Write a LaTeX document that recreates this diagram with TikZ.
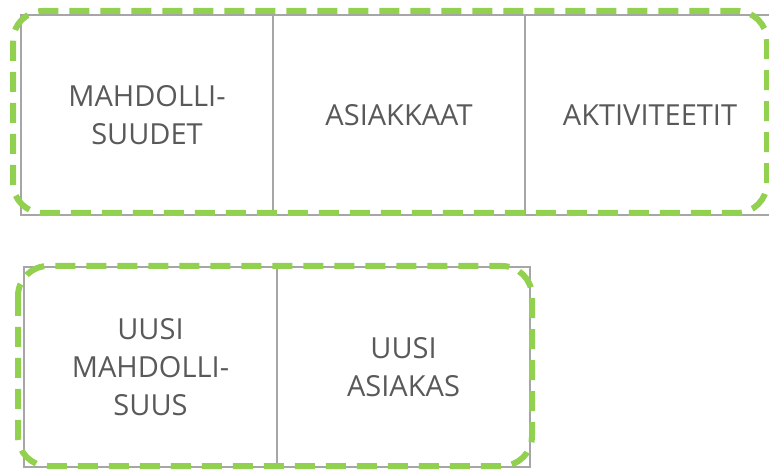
\documentclass[tikz,border=0pt]{standalone}
\usepackage{fontspec}
\setmainfont{Open Sans}
\definecolor{cellgray}{HTML}{A6A6A6}
\definecolor{txtgray}{HTML}{595959}
\definecolor{dashgreen}{HTML}{92D050}
\begin{document}
\begin{tikzpicture}[x=1pt,y=-1pt,
  cell/.style={draw=cellgray, line width=1.2pt, rectangle, minimum height=200pt, inner sep=0pt,
    align=center, text=txtgray, font=\fontsize{29}{38}\selectfont},
  greenbox/.style={draw=dashgreen, line width=6pt, rounded corners=30pt, dash pattern=on 20pt off 11pt}]
\useasboundingbox (0,0) rectangle (769,470);
\begin{scope}
\clip (0,0) rectangle (769,470);
\node[cell, minimum width=252pt] (c1) at (147,115) {MAHDOLLI-\\SUUDET};
\node[cell, minimum width=252pt] (c2) at (399,115) {ASIAKKAAT};
\node[cell, minimum width=260pt] (c3) at (655,115) {};
\node[text=txtgray, font=\fontsize{29}{38}\selectfont] (t3) at (650,115) {AKTIVITEETIT};
\node[cell, minimum width=253pt] (d1) at (150.5,367) {UUSI\\MAHDOLLI-\\SUUS};
\node[cell, minimum width=253pt] (d2) at (403.5,367) {UUSI\\ASIAKAS};
\draw[greenbox] (13,11) rectangle (767,213);
\draw[greenbox] (18,266) rectangle (532,466);
\end{scope}
\end{tikzpicture}
\end{document}
